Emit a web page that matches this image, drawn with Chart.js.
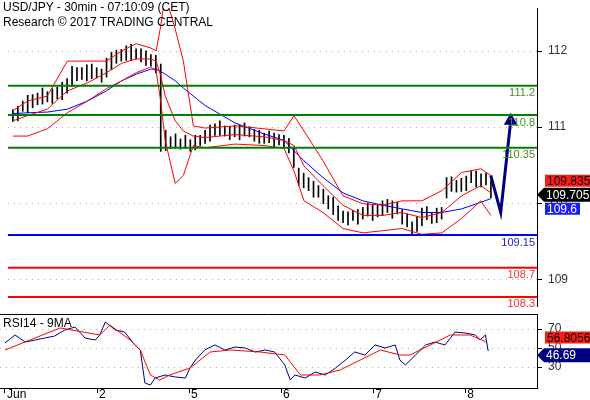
<!DOCTYPE html>
<html>
<head>
<meta charset="utf-8">
<script src="https://cdn.jsdelivr.net/npm/chart.js@4.4.0/dist/chart.umd.min.js"></script>
<style>
  body { margin: 0; background: #fff; font-family: Arial, "Liberation Sans", sans-serif; }
  #wrap { position: relative; width: 590px; height: 400px; }
  #main { position: absolute; left: 0; top: 0; width: 590px; height: 314px; }
  #rsi { position: absolute; left: 0; top: 314px; width: 590px; height: 86px; }
  .ttl { position: absolute; left: 3px; font-size: 12px; color: #000; }
</style>
</head>
<body>
<div id="wrap">
  <div id="main"><canvas id="cMain"></canvas></div>
  <div id="rsi"><canvas id="cRsi"></canvas></div>
  <div class="ttl" style="top:0px">USD/JPY - 30min - 07:10:09 (CET)</div>
  <div class="ttl" style="top:15px">Research © 2017 TRADING CENTRAL</div>
  <div class="ttl" style="top:316px">RSI14 - 9MA</div>
</div>
<script>
// day axis: 0 = Jun 1 open, weekend skipped
const dayLabels = ['Jun', '2', '5', '6', '7', '8'];
const priceTicks = [112, 111, 110, 109];
const rsiTicks = [70, 50, 30];

// 30min bars (sampled): mid price and half range
const barStep = 5 / 92;
const barMid = [110.79,110.82,110.92,110.95,110.99,111.02,111.06,111.05,111.06,111.10,
  111.13,111.20,111.33,111.36,111.37,111.38,111.40,111.38,111.34,111.45,
  111.54,111.60,111.62,111.65,111.66,111.64,111.62,111.58,111.55,111.50,
  110.90,110.45,110.42,110.44,110.40,110.43,110.38,110.42,110.45,110.50,
  110.55,110.60,110.62,110.58,110.55,110.58,110.56,110.60,110.57,110.52,
  110.50,110.48,110.50,110.45,110.46,110.44,110.38,110.22,109.95,109.90,
  109.85,109.78,109.75,109.68,109.60,109.55,109.45,109.40,109.38,109.42,
  109.40,109.45,109.50,109.46,109.48,109.52,109.55,109.50,109.52,109.40,
  109.35,109.25,109.30,109.40,109.45,109.38,109.42,109.45,109.80,109.85,
  109.82,109.84,109.86,109.95,109.92,109.90,109.92,109.78];
const barHalf = [0.08,0.10,0.07,0.12,0.09,0.08,0.11,0.07,0.10,0.08,
  0.12,0.10,0.14,0.09,0.08,0.11,0.10,0.07,0.09,0.13,
  0.12,0.09,0.08,0.10,0.11,0.07,0.09,0.10,0.08,0.12,
  0.60,0.14,0.08,0.10,0.07,0.09,0.08,0.10,0.07,0.09,
  0.11,0.08,0.10,0.07,0.09,0.08,0.10,0.09,0.07,0.08,
  0.09,0.07,0.08,0.10,0.07,0.08,0.10,0.14,0.12,0.10,
  0.09,0.11,0.08,0.10,0.09,0.12,0.10,0.08,0.09,0.07,
  0.10,0.08,0.09,0.11,0.08,0.10,0.09,0.12,0.08,0.10,
  0.09,0.08,0.10,0.12,0.09,0.07,0.10,0.08,0.14,0.10,
  0.08,0.09,0.10,0.08,0.11,0.09,0.08,0.12];

// bollinger bands and moving average
const bandT = [0,0.16,0.38,0.60,0.82,1.03,1.20,1.36,1.52,1.58,1.63,1.68,1.79,1.88,1.99,2.12,
  2.45,2.77,2.99,3.10,3.21,3.42,3.64,3.86,4.08,4.29,4.51,4.73,4.95,5.16,5.27];
const bandUp = [110.86,110.99,111.06,111.54,111.54,111.54,111.68,111.78,111.72,111.68,112.02,112.45,
  111.98,111.54,110.65,110.62,110.65,110.61,110.58,110.79,110.58,110.17,109.69,109.58,109.56,
  109.62,109.62,109.76,110.01,110.06,109.97];
const bandMid = [110.72,110.79,110.88,111.13,111.24,111.38,111.51,111.57,111.57,111.54,111.34,111.06,
  110.72,110.58,110.51,110.49,110.53,110.50,110.45,110.38,110.10,109.83,109.56,109.42,109.42,
  109.46,109.39,109.46,109.69,109.83,109.73];
const bandLow = [110.51,110.51,110.61,110.83,110.99,111.16,111.27,111.38,111.46,111.40,110.99,110.45,
  109.86,109.97,110.38,110.35,110.40,110.38,110.34,110.03,109.62,109.46,109.24,109.18,109.21,
  109.24,109.16,109.18,109.38,109.62,109.42];
const maBlue = [110.82,110.83,110.84,110.88,110.99,111.13,111.27,111.36,111.43,111.43,111.40,111.36,
  111.27,111.17,111.06,110.93,110.69,110.54,110.45,110.31,110.17,109.94,109.73,109.62,109.56,
  109.51,109.46,109.46,109.51,109.60,109.65];

// key levels
const resistLevels = [111.2, 110.8, 110.35];
const pivotLevel = 109.15;
const supportLevels = [108.7, 108.3];

// forecast path
const fcT = [5.27, 5.38, 5.49];
const fcP = [109.97, 109.46, 110.72];

// last quotes
const lastHigh = 109.835, lastClose = 109.705, lastLow = 109.6;

// RSI14 and its 9MA
const rsiT = [0,.11,.22,.33,.43,.54,.65,.76,.87,.98,1.03,1.09,1.20,1.30,1.41,1.47,1.52,1.58,1.63,1.74,
  1.85,1.96,2.01,2.07,2.17,2.28,2.39,2.50,2.61,2.72,2.83,2.93,3.04,3.10,3.15,3.26,3.37,3.48,3.59,
  3.70,3.80,3.91,4.02,4.13,4.24,4.29,4.35,4.46,4.57,4.67,4.78,4.89,5.00,5.11,5.16,5.22,5.25];
const rsiVal = [55.3,63.7,56.3,58.4,60.5,62.6,68.9,72.1,60.5,58.4,63.7,77.4,68.9,66.8,53.2,47.9,13.2,11,
  18.4,21.6,19.5,18.4,28.9,37.4,47.9,53.2,47.9,51,50,45.8,47.9,45.8,32.1,16.3,21.6,18.4,24.7,21.6,
  28.9,37.4,45.8,42.6,53.2,50,53.2,37.4,32.1,42.6,53.2,56.3,53.2,66.8,65.8,63.7,58.4,63.7,46.69];
const rsiMaT = [0,.27,.60,1.03,1.14,1.36,1.47,1.58,1.68,1.79,2.01,2.23,2.45,2.77,3.04,3.21,3.42,3.64,
  3.86,4.08,4.29,4.40,4.62,4.84,5.05,5.22];
const rsiMa = [47.9,58.4,71.1,63.7,74.2,58.4,47.9,21.6,16.3,21.6,28.9,45.8,47.9,45.8,42.6,21.6,21.6,
  26.8,37.4,47.9,42.6,42.6,53.2,63.7,63.7,56.8];

const X_MIN = -0.054, X_MAX = 5.78;
const pts = (t, v) => t.map((x, i) => ({ x, y: v[i] }));
const line = (data, color, w, extra) => Object.assign({
  type: 'line', data, borderColor: color, borderWidth: w, pointRadius: 0, tension: 0, fill: false
}, extra || {});
const level = (v, color) => line([{ x: X_MIN, y: v }, { x: X_MAX, y: v }], color, 2);

function tag(ctx, text, y, bg, fg, x0, x1, arrow) {
  ctx.save();
  ctx.fillStyle = bg;
  ctx.beginPath();
  if (arrow) {
    ctx.moveTo(x0 - 7, y);
    ctx.lineTo(x0, y - 7); ctx.lineTo(x1, y - 7); ctx.lineTo(x1, y + 7); ctx.lineTo(x0, y + 7);
  } else {
    ctx.rect(x0, y - 6, x1 - x0, 12);
  }
  ctx.closePath();
  ctx.fill();
  ctx.fillStyle = fg;
  ctx.font = '12px Arial';
  ctx.textBaseline = 'middle';
  ctx.textAlign = 'left';
  ctx.fillText(text, x0 + 2, y + 1);
  ctx.restore();
}

// right-axis tick labels drawn by hand so they add no layout padding
function axisLabels(ctx, scale, values) {
  ctx.save();
  ctx.font = '12px Arial';
  ctx.fillStyle = '#303030';
  ctx.textAlign = 'left';
  ctx.textBaseline = 'middle';
  values.forEach(v => ctx.fillText(String(v), scale.left + 11, scale.getPixelForValue(v)));
  ctx.restore();
}

const yAxis = (min, max, values) => ({
  position: 'right', min, max,
  afterBuildTicks: s => { s.ticks = values.map(v => ({ value: v })); },
  afterFit: s => { s.width = 53; },
  ticks: { display: false },
  grid: { color: '#b0b0b0', tickColor: '#000', tickLength: 5 },
  border: { color: '#000', dash: [1, 5] }
});

const mainDeco = {
  id: 'mainDeco',
  afterDraw(chart) {
    const ctx = chart.ctx, y = chart.scales.y, r = chart.chartArea.right;
    axisLabels(ctx, chart.scales.y2, priceTicks);
    ctx.save();
    ctx.font = '11px Arial';
    ctx.textAlign = 'right';
    ctx.textBaseline = 'top';
    resistLevels.forEach(v => { ctx.fillStyle = '#4a8a2a'; ctx.fillText(String(v), r - 2, y.getPixelForValue(v) + 2); });
    ctx.fillStyle = '#2222cc'; ctx.fillText(String(pivotLevel), r - 2, y.getPixelForValue(pivotLevel) + 2);
    supportLevels.forEach(v => { ctx.fillStyle = '#ff3030'; ctx.fillText(String(v), r - 2, y.getPixelForValue(v) + 2); });
    ctx.restore();
    const yc = y.getPixelForValue(lastClose);
    tag(ctx, String(lastHigh), yc - 14, '#ff1a1a', '#000', r + 8, 590);
    tag(ctx, String(lastLow), yc + 14, '#1a1aff', '#fff', r + 8, 580);
    tag(ctx, String(lastClose), yc, '#000', '#fff', r + 7, 590, true);
  }
};

new Chart(document.getElementById('cMain'), {
  data: {
    datasets: [
      level(resistLevels[0], '#008000'), level(resistLevels[1], '#008000'), level(resistLevels[2], '#008000'),
      level(pivotLevel, '#0000ff'), level(supportLevels[0], '#ff0000'), level(supportLevels[1], '#ff0000'),
      line(pts(bandT, bandUp), '#ff0000', 1),
      line(pts(bandT, bandMid), '#ff0000', 1),
      line(pts(bandT, bandLow), '#ff0000', 1),
      line(pts(bandT, maBlue), '#0000ff', 1),
      { type: 'bar', data: barMid.map((m, i) => ({ x: i * barStep, y: [m - barHalf[i], m + barHalf[i]] })),
        backgroundColor: '#000', barThickness: 1 },
      line(pts(fcT, fcP), '#000080', 3, {
        pointRadius: [0, 0, 8], pointStyle: 'triangle', pointBackgroundColor: '#000080', pointBorderWidth: 0 })
    ]
  },
  options: {
    animation: false, responsive: true, maintainAspectRatio: false,
    layout: { padding: 0 },
    plugins: { legend: { display: false }, tooltip: { enabled: false } },
    scales: {
      x: { type: 'linear', min: X_MIN, max: X_MAX, offset: false, display: false },
      y: { min: 108.175, max: 112.27, display: false },
      y2: yAxis(108.65, 112.565, priceTicks)
    }
  },
  plugins: [mainDeco]
});

const rsiDeco = {
  id: 'rsiDeco',
  afterDraw(chart) {
    const ctx = chart.ctx, a = chart.chartArea, y = chart.scales.y;
    axisLabels(ctx, y, rsiTicks);
    ctx.save();
    ctx.strokeStyle = '#000';
    ctx.lineWidth = 1;
    ctx.beginPath();
    ctx.moveTo(0, a.top + 0.5); ctx.lineTo(a.right, a.top + 0.5);
    ctx.stroke();
    ctx.font = '12px Arial';
    ctx.fillStyle = '#000';
    ctx.textBaseline = 'top';
    const x = chart.scales.x;
    dayLabels.forEach((d, i) => ctx.fillText(d, x.getPixelForValue(i) + 2, a.bottom + 1));
    ctx.restore();
    tag(ctx, '56.8056', y.getPixelForValue(rsiMa[rsiMa.length - 1]) - 4, '#ff1a1a', '#000', a.right + 8, 590);
    tag(ctx, '46.69', y.getPixelForValue(rsiVal[rsiVal.length - 1]) + 4, '#000080', '#fff', a.right + 7, 590, true);
  }
};

new Chart(document.getElementById('cRsi'), {
  data: {
    datasets: [
      line(pts(rsiMaT, rsiMa), '#ff0000', 1),
      line(pts(rsiT, rsiVal), '#000080', 1)
    ]
  },
  options: {
    animation: false, responsive: true, maintainAspectRatio: false,
    layout: { padding: 0 },
    plugins: { legend: { display: false }, tooltip: { enabled: false } },
    scales: {
      x: {
        type: 'linear', min: X_MIN, max: X_MAX,
        afterBuildTicks: s => { s.ticks = dayLabels.map((_, i) => ({ value: i })); },
        afterFit: s => { s.height = 12; },
        ticks: { display: false },
        grid: { drawOnChartArea: false, tickColor: '#000', tickLength: 5 },
        border: { color: '#000' }
      },
      y: yAxis(7.9, 85.8, rsiTicks)
    }
  },
  plugins: [rsiDeco]
});
</script>
</body>
</html>
